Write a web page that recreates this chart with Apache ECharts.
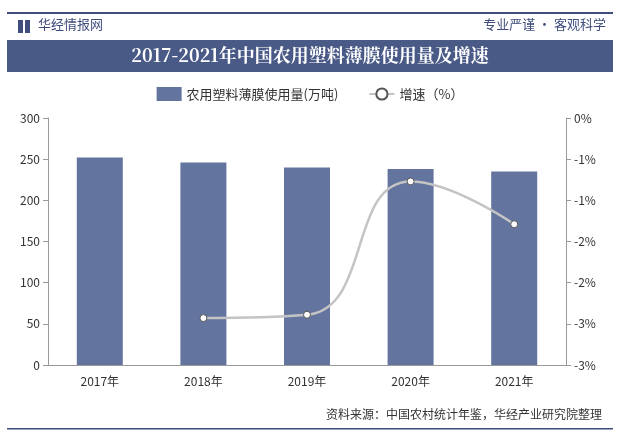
<!DOCTYPE html>
<html>
<head>
<meta charset="utf-8">
<script src="https://cdn.jsdelivr.net/npm/echarts@6/dist/echarts.min.js"></script>
<style>html,body{margin:0;padding:0;background:#fff}#main{width:620px;height:438px}</style>
</head>
<body>
<div id="main"></div>
<script>
// 数据
var years = ['2017年', '2018年', '2019年', '2020年', '2021年'];
var usage = [252, 246, 240, 238, 235];
var growth = [null, -2.43, -2.39, -0.77, -1.29];

var chart = echarts.init(document.getElementById('main'));
var cjk = '"Noto Sans CJK SC", sans-serif';

var option = {
    animation: false,
    textStyle: {fontFamily: cjk},
    graphic: [
        {type: 'rect', shape: {x: 7, y: 12, width: 606, height: 2}, style: {fill: '#3f4d7c'}},
        {type: 'rect', shape: {x: 18, y: 20, width: 5, height: 13}, style: {fill: '#3f4d7c'}},
        {type: 'rect', shape: {x: 25, y: 20, width: 5, height: 13}, style: {fill: '#3f4d7c'}},
        {type: 'text', left: 38, top: 18, style: {text: '华经情报网', fill: '#3f4d7c', font: '13px ' + cjk}},
        {type: 'text', right: 14, top: 18, style: {text: '专业严谨 • 客观科学', fill: '#3f4d7c', font: '13px ' + cjk}},
        {type: 'rect', shape: {x: 7, y: 40, width: 606, height: 32}, style: {fill: '#4a5a87'}},
        {type: 'text', left: 'center', top: 46, style: {text: '2017-2021年中国农用塑料薄膜使用量及增速', fill: '#fff', font: 'bold 18px "Noto Serif CJK SC", "DejaVu Serif", ' + cjk}},
        {type: 'text', right: 18, top: 408, style: {text: '资料来源：中国农村统计年鉴，华经产业研究院整理', fill: '#333', font: '12px ' + cjk}},
        {type: 'rect', shape: {x: 7, y: 428, width: 606, height: 1.5}, style: {fill: '#3f4d7c'}}
    ],
    legend: {
        top: 82,
        left: 'center',
        itemGap: 30,
        textStyle: {fontSize: 13, color: '#333'},
        data: [
            {name: '农用塑料薄膜使用量(万吨)', icon: 'rect', itemWidth: 26, itemHeight: 5},
            {name: '增速（%）'}
        ]
    },
    grid: {left: 48, right: 54, top: 118, bottom: 73},
    xAxis: {
        type: 'category',
        data: years,
        axisLine: {lineStyle: {color: '#999'}},
        axisTick: {lineStyle: {color: '#999'}},
        axisLabel: {color: '#333', fontSize: 12, margin: 10}
    },
    yAxis: [
        {
            type: 'value', min: 0, max: 300, interval: 50,
            axisLine: {show: true, lineStyle: {color: '#999'}},
            axisTick: {show: true},
            splitLine: {show: false},
            axisLabel: {color: '#333', fontSize: 12}
        },
        {
            type: 'value', min: -3, max: 0, interval: 0.5,
            axisLine: {show: true, lineStyle: {color: '#999'}},
            axisTick: {show: true},
            splitLine: {show: false},
            axisLabel: {color: '#333', fontSize: 12, formatter: function (v) { return v.toFixed(0) + '%'; }}
        }
    ],
    series: [
        {
            name: '农用塑料薄膜使用量(万吨)',
            type: 'bar',
            barWidth: 46,
            itemStyle: {color: '#63749e'},
            data: usage
        },
        {
            name: '增速（%）',
            type: 'line',
            yAxisIndex: 1,
            smooth: true,
            symbol: 'circle',
            symbolSize: 7,
            lineStyle: {color: '#c4c4c4', width: 2.5},
            itemStyle: {color: '#fff', borderColor: '#555', borderWidth: 1},
            data: growth
        }
    ]
};
chart.setOption(option);
</script>
</body>
</html>
